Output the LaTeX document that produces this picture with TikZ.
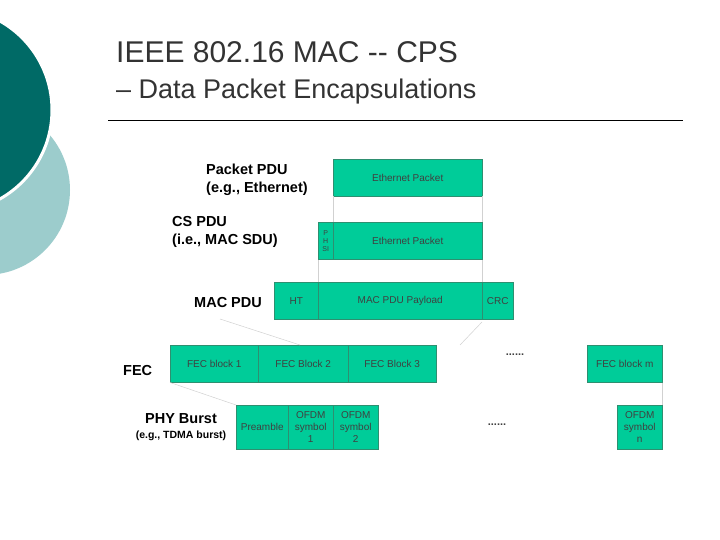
\documentclass[tikz,border=0pt]{standalone}
\usepackage{fontspec}
\setmainfont{Liberation Sans}
\begin{document}
\begin{tikzpicture}[x=1pt,y=-1pt,
 blk/.style={fill=pktgreen,draw=pktedge,line width=0.5pt,font=\fontsize{10}{12}\selectfont,text=black!75,align=center,inner sep=0pt},
 lab/.style={font=\bfseries\fontsize{14.5}{18}\selectfont,align=left,anchor=west,inner sep=0pt},
 dots/.style={font=\bfseries\fontsize{11}{12}\selectfont,text=black!75},
 guide/.style={draw=black!18,line width=0.5pt}]
\definecolor{pktgreen}{HTML}{00CC99}
\definecolor{pktedge}{HTML}{2E8F70}
\definecolor{darkteal}{HTML}{006A66}
\definecolor{lightteal}{HTML}{9CCCCC}
\useasboundingbox (0,0) rectangle (720,540);
\begin{scope}
\clip (0,0) rectangle (720,540);
\fill[lightteal] (-15,190) circle (85);
\fill[darkteal,draw=white,line width=3pt] (-50,110) circle (102);
\end{scope}
\node[anchor=west,inner sep=0pt,font=\fontsize{30}{32}\selectfont,text=black!80] (t1) at (116,52) {IEEE 802.16 MAC {-}{-} CPS};
\node[anchor=west,inner sep=0pt,font=\fontsize{27}{30}\selectfont,text=black!80] (t2) at (116,92) {– Data Packet Encapsulations};
\draw[line width=0.8pt] (108,120) -- (683,120);
% labels
\node[lab] (l1) at (206,180) {Packet PDU\\(e.g., Ethernet)};
\node[lab] (l2) at (172,232) {CS PDU\\(i.e., MAC SDU)};
\node[lab] (l3) at (194,303) {MAC PDU};
\node[lab] (l4) at (123,371) {FEC};
\node[lab,align=center,anchor=center] (l5) at (181,427) {PHY Burst\\[-3pt]{\fontsize{10.5}{12}\selectfont(e.g., TDMA burst)}};
% row 1
\node[blk,minimum width=149,minimum height=37,anchor=north west] (ep1) at (333,159) {Ethernet Packet};
% row 2
\node[blk,minimum width=15,minimum height=37,anchor=north west,font=\fontsize{7}{8}\selectfont] (phsi) at (318,222) {P\\H\\SI};
\node[blk,minimum width=149,minimum height=37,anchor=north west] (ep2) at (333,222) {Ethernet Packet};
% row 3
\node[blk,minimum width=44,minimum height=37,anchor=north west] (ht) at (274,282) {HT};
\node[blk,minimum width=164,minimum height=37,anchor=north west] (pay) at (318,282) {MAC PDU Payload};
\node[blk,minimum width=31,minimum height=37,anchor=north west] (crc) at (482,282) {CRC};
% row 4
\node[blk,minimum width=88,minimum height=37,anchor=north west] (f1) at (170,345) {FEC block 1};
\node[blk,minimum width=90,minimum height=37,anchor=north west] (f2) at (258,345) {FEC Block 2};
\node[blk,minimum width=88,minimum height=37,anchor=north west] (f3) at (348,345) {FEC Block 3};
\node[dots] (d1) at (515,355) {......};
\node[blk,minimum width=75,minimum height=37,anchor=north west] (fm) at (587,345) {FEC block m};
% row 5
\node[blk,minimum width=52,minimum height=44,anchor=north west] (pre) at (236,405) {Preamble};
\node[blk,minimum width=45,minimum height=44,anchor=north west] (s1) at (288,405) {OFDM\\symbol\\1};
\node[blk,minimum width=45,minimum height=44,anchor=north west] (s2) at (333,405) {OFDM\\symbol\\2};
\node[dots] (d2) at (497,425) {......};
\node[blk,minimum width=45,minimum height=44,anchor=north west] (sn) at (617,405) {OFDM\\symbol\\n};
% guides
\draw[guide] (ep1.south west) -- (ep2.north west);
\draw[guide] (ep1.south east) -- (ep2.north east);
\draw[guide] (phsi.south west) -- (pay.north west);
\draw[guide] (ep2.south east) -- (pay.north east);
\coordinate (g1) at (220,319);
\coordinate (g2) at (300,345);
\coordinate (g3) at (482,322);
\coordinate (g4) at (460,345);
\draw[guide] (g1) -- (g2);
\draw[guide] (g3) -- (g4);
\draw[guide] (f1.south west) -- (pre.north west);
\draw[guide] (fm.south east) -- (sn.north east);
\end{tikzpicture}
\end{document}
